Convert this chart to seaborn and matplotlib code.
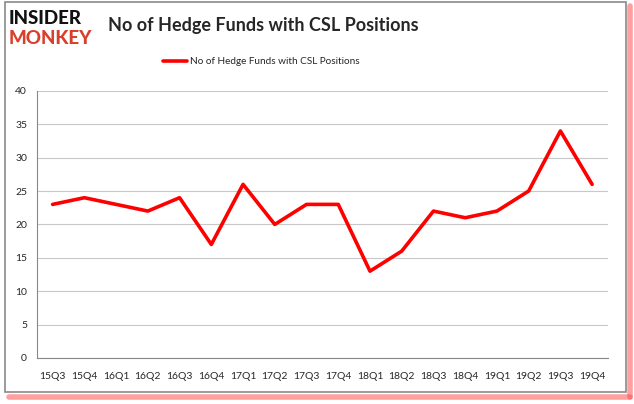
import matplotlib
matplotlib.use('Agg')
import matplotlib.pyplot as plt
import numpy as np
import pandas as pd
import seaborn as sns
from matplotlib.patches import Rectangle

quarters = ['15Q3', '15Q4', '16Q1', '16Q2', '16Q3', '16Q4', '17Q1', '17Q2', '17Q3',
            '17Q4', '18Q1', '18Q2', '18Q3', '18Q4', '19Q1', '19Q2', '19Q3', '19Q4']
funds = [23, 24, 23, 22, 24, 17, 26, 20, 23, 23, 13, 16, 22, 21, 22, 25, 34, 26]
y_ticks = [0, 5, 10, 15, 20, 25, 30, 35, 40]
series_name = 'No of Hedge Funds with CSL Positions'

sns.set_style('white')
plt.rcParams['font.family'] = ['Lato', 'DejaVu Sans']

df = pd.DataFrame({'quarter': quarters, 'funds': funds})
df['pos'] = np.arange(len(df))

fig = plt.figure(figsize=(6.34, 4.04), dpi=100)
ax = fig.add_axes([0.058, 0.114, 0.901, 0.661])

sns.lineplot(data=df, x='pos', y='funds', color='#ff0000', linewidth=2.6, ax=ax, legend=False)

ax.set_xlim(-0.5, len(quarters) - 0.5)
ax.set_ylim(0, 40)
ax.set_yticks(y_ticks)
ax.set_xticks(np.arange(len(quarters)))
ax.set_xticklabels(quarters, fontsize=7.5)
ax.set_xticks(np.arange(-0.5, len(quarters)), minor=True)
ax.tick_params(axis='x', which='major', length=0, pad=10)
ax.tick_params(axis='x', which='minor', length=4, color='#888888', direction='out')
ax.tick_params(axis='y', labelsize=7.5, length=0, pad=7)
ax.set_xlabel('')
ax.set_ylabel('')
ax.grid(axis='y', color='#c8c8c8', linewidth=0.8)
ax.set_axisbelow(True)
for side in ['top', 'right']:
    ax.spines[side].set_visible(False)
for side in ['left', 'bottom']:
    ax.spines[side].set_color('#888888')
    ax.spines[side].set_linewidth(0.8)

# title, legend and logo
fig.text(0.17, 0.937, series_name, fontsize=13, fontweight='bold', va='center', ha='left')
fig.add_artist(plt.Line2D([0.257, 0.295], [0.848, 0.848], color='#ff0000', linewidth=2.6))
fig.text(0.3, 0.848, series_name, fontsize=7.2, va='center', ha='left')
fig.text(0.013, 0.955, 'INSIDER', fontsize=13.5, fontweight='black', color='#111111',
         va='center', ha='left')
fig.text(0.013, 0.905, 'MONKEY', fontsize=13.5, fontweight='black', color='#d9402b',
         va='center', ha='left')

# frame with red shadow on the right and bottom only
fig.add_artist(plt.Line2D([0.014, 0.993], [0.018, 0.018], color='#ff5050', linewidth=4, alpha=0.55))
fig.add_artist(plt.Line2D([0.993, 0.993], [0.018, 0.985], color='#ff5050', linewidth=4, alpha=0.55))
fig.add_artist(Rectangle((0.008, 0.03), 0.98, 0.966, transform=fig.transFigure,
                         facecolor='none', edgecolor='#8a8a8a', linewidth=1.2))

fig.savefig('out.png', dpi=100)
